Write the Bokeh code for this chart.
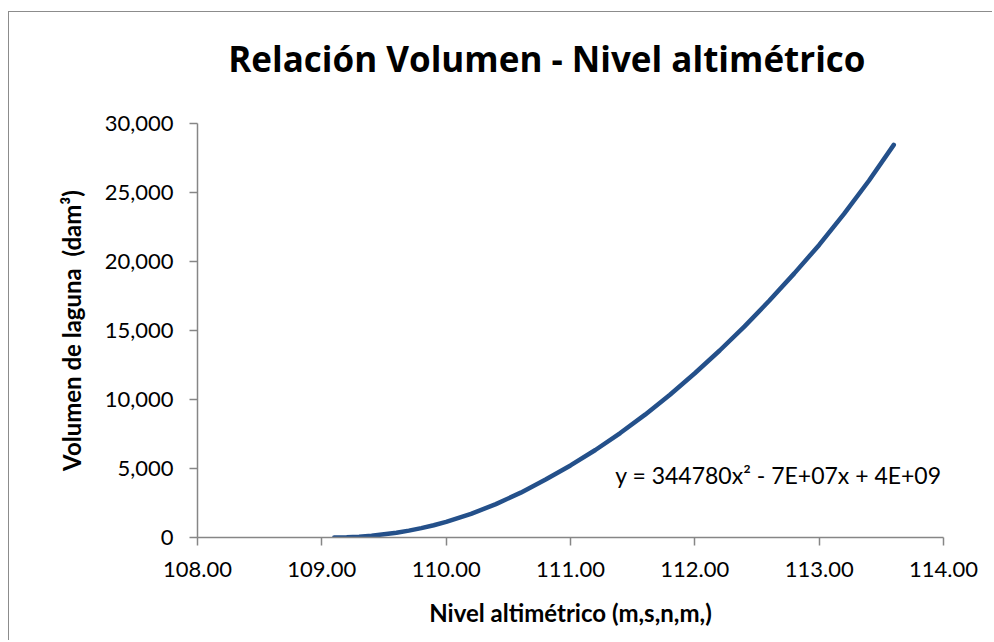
from bokeh.plotting import figure
from bokeh.models import Range1d, FixedTicker, NumeralTickFormatter, Label, Title
from bokeh.embed import file_html
from bokeh.resources import INLINE

# Data
nivel = [109.10, 109.20, 109.30, 109.40, 109.50, 109.60, 109.70, 109.80, 109.90, 110.00,
         110.20, 110.40, 110.60, 110.80, 111.00, 111.20, 111.40, 111.60, 111.80, 112.00,
         112.20, 112.40, 112.60, 112.80, 113.00, 113.20, 113.40, 113.60]
volumen = [0, 20, 60, 130, 230, 350, 500, 680, 890, 1130,
           1710, 2420, 3250, 4200, 5220, 6340, 7570, 8900, 10350, 11900,
           13550, 15300, 17170, 19140, 21200, 23450, 25850, 28450]

x_ticks = [108, 109, 110, 111, 112, 113, 114]
y_ticks = [0, 5000, 10000, 15000, 20000, 25000, 30000]

titulo = "Relación Volumen - Nivel altimétrico"
x_titulo = "Nivel altimétrico (m,s,n,m,)"
y_titulo = "Volumen de laguna\u00a0 (dam³)"
ecuacion = "y = 344780x² - 7E+07x + 4E+09"

FONT = "Lato"
AXIS_COLOR = "#868686"

p = figure(width=984, height=629, output_backend="svg", toolbar_location=None,
           x_range=Range1d(108, 114), y_range=Range1d(0, 30000),
           min_border_left=188, min_border_right=50, min_border_top=111, min_border_bottom=104)
p.styles = {"border-left": "1.5px solid #8c8c8c", "border-top": "1.5px solid #8c8c8c",
            "margin-left": "8px", "margin-top": "11px"}
p.title = None
p.outline_line_color = None
p.xgrid.visible = False
p.ygrid.visible = False
p.background_fill_color = "white"
p.border_fill_color = "white"

p.line(nivel, volumen, line_color="#24508A", line_width=4.5, line_cap="round", line_join="round")

for ax in (p.xaxis[0], p.yaxis[0]):
    ax.axis_line_color = AXIS_COLOR
    ax.axis_line_width = 1.5
    ax.major_tick_line_color = AXIS_COLOR
    ax.major_tick_line_width = 1.5
    ax.major_tick_out = 8
    ax.major_tick_in = 0
    ax.minor_tick_line_color = None
    ax.major_label_text_font = FONT
    ax.major_label_text_font_size = "22px"
    ax.major_label_text_color = "black"
    ax.axis_label_text_font = FONT
    ax.axis_label_text_font_style = "bold"
    ax.axis_label_text_font_size = "24px"
    ax.axis_label_text_color = "black"

p.xaxis[0].ticker = FixedTicker(ticks=x_ticks)
p.xaxis[0].formatter = NumeralTickFormatter(format="0.00")
p.xaxis[0].axis_label = x_titulo
p.xaxis[0].major_label_standoff = 16
p.xaxis[0].axis_label_standoff = 18

p.yaxis[0].ticker = FixedTicker(ticks=y_ticks)
p.yaxis[0].formatter = NumeralTickFormatter(format="0,0")
p.yaxis[0].axis_label = y_titulo
p.yaxis[0].major_label_standoff = 16
p.yaxis[0].axis_label_standoff = 16

# spacer between the plot frame and the title (nearest the frame)
p.add_layout(Title(text=" ", text_font_size="1px", standoff=37), "above")
p.add_layout(Title(text=titulo, align="right", offset=78, standoff=0, vertical_align="top",
                   text_font="Open Sans", text_font_style="bold", text_font_size="35px",
                   text_color="black"), "above")

p.add_layout(Label(x=111.36, y=4550, text=ecuacion, text_font=FONT,
                   text_font_size="23px", text_align="left", text_baseline="middle",
                   text_color="black"))

open("out.html", "w").write(file_html(p, INLINE))
